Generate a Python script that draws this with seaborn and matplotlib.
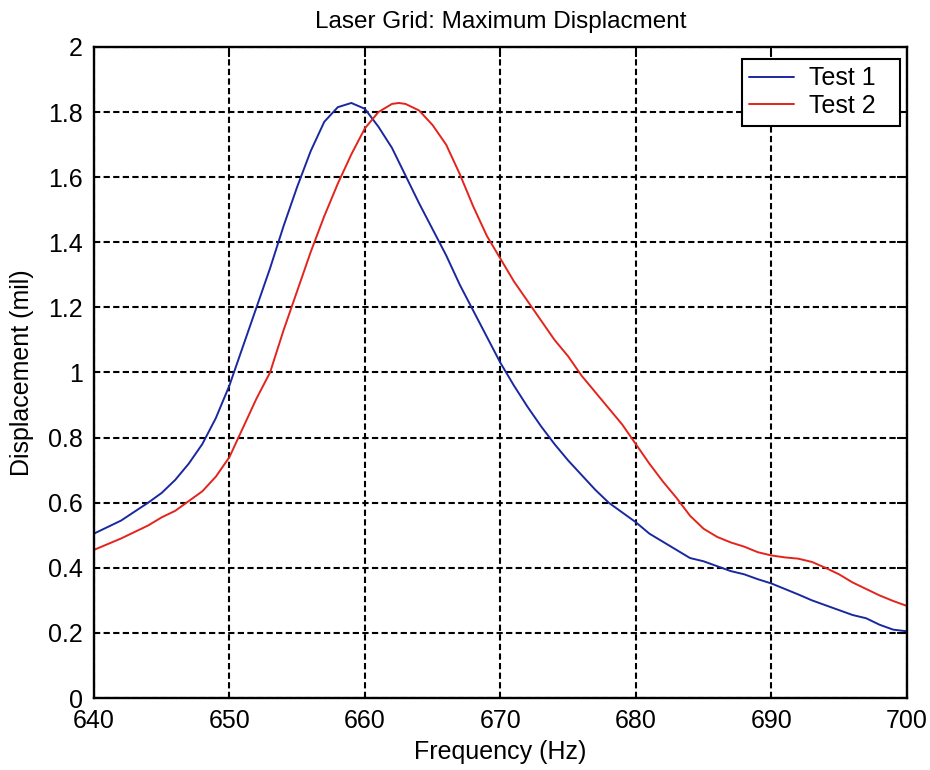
import matplotlib
matplotlib.use("Agg")
import matplotlib.pyplot as plt
from matplotlib.ticker import FormatStrFormatter, MultipleLocator
import seaborn as sns
import pandas as pd

# Frequency sweep (Hz) and measured maximum displacement (mil) for each test
freq_test1 = [640, 642, 644, 645, 646, 647, 648, 649, 650, 651, 652, 653, 654, 655,
              656, 657, 658, 659, 660, 661, 662, 663, 664, 665, 666, 667, 668, 669,
              670, 671, 672, 673, 674, 675, 676, 677, 678, 679, 680, 681, 682, 683,
              684, 685, 686, 687, 688, 689, 690, 691, 692, 693, 694, 695, 696, 697,
              698, 699, 700]
disp_test1 = [0.505, 0.545, 0.60, 0.63, 0.67, 0.72, 0.78, 0.86, 0.96, 1.08, 1.20, 1.32,
              1.45, 1.57, 1.68, 1.77, 1.815, 1.828, 1.81, 1.755, 1.69, 1.605, 1.52,
              1.44, 1.36, 1.27, 1.19, 1.11, 1.03, 0.96, 0.895, 0.835, 0.78, 0.73,
              0.685, 0.64, 0.60, 0.57, 0.54, 0.505, 0.48, 0.455, 0.43, 0.42, 0.405,
              0.39, 0.38, 0.365, 0.352, 0.335, 0.318, 0.30, 0.285, 0.27, 0.255, 0.245,
              0.225, 0.21, 0.205]

freq_test2 = [640, 642, 644, 645, 646, 647, 648, 649, 650, 651, 652, 653, 654, 655,
              656, 657, 658, 659, 660, 661, 662, 662.5, 663, 664, 665, 666, 667, 668,
              669, 670, 671, 672, 673, 674, 675, 676, 677, 678, 679, 680, 681, 682,
              683, 684, 685, 686, 687, 688, 689, 690, 691, 692, 693, 694, 695, 696,
              697, 698, 699, 700]
disp_test2 = [0.455, 0.49, 0.53, 0.555, 0.575, 0.605, 0.635, 0.68, 0.74, 0.83, 0.92,
              1.00, 1.13, 1.25, 1.37, 1.48, 1.58, 1.67, 1.75, 1.80, 1.825, 1.828,
              1.825, 1.805, 1.76, 1.70, 1.61, 1.51, 1.42, 1.35, 1.28, 1.22, 1.16,
              1.10, 1.05, 0.99, 0.94, 0.89, 0.84, 0.78, 0.72, 0.665, 0.615, 0.56,
              0.52, 0.495, 0.478, 0.465, 0.448, 0.438, 0.432, 0.428, 0.418, 0.40,
              0.38, 0.355, 0.335, 0.315, 0.298, 0.283]

series_names = ["Test 1", "Test 2"]
x_ticks = [640, 650, 660, 670, 680, 690, 700]

df = pd.concat([
    pd.DataFrame({"Frequency": freq_test1, "Displacement": disp_test1, "Series": series_names[0]}),
    pd.DataFrame({"Frequency": freq_test2, "Displacement": disp_test2, "Series": series_names[1]}),
], ignore_index=True)

sns.set_theme(style="white")
plt.rcParams["font.family"] = ["Liberation Sans", "DejaVu Sans"]

fig = plt.figure(figsize=(9.3, 7.7), dpi=100)
ax = fig.add_axes([0.101, 0.0935, 0.874, 0.8455])

palette = {"Test 1": "#1a28a0", "Test 2": "#e3241c"}
sns.lineplot(data=df, x="Frequency", y="Displacement", hue="Series", palette=palette,
             sort=False, estimator=None, linewidth=1.4, ax=ax, legend=False)

ax.set_xlim(640, 700)
ax.set_ylim(0, 2)
ax.set_xticks(x_ticks)
ax.yaxis.set_major_locator(MultipleLocator(0.2))
ax.yaxis.set_major_formatter(FormatStrFormatter("%g"))
ax.xaxis.set_major_formatter(FormatStrFormatter("%g"))

ax.grid(True, color="black", linestyle=(0, (3, 1.6)), linewidth=1.5)
for s in ax.spines.values():
    s.set_color("black")
    s.set_linewidth(1.7)
ax.tick_params(direction="in", length=7, width=1.4, top=True, right=True,
               labelsize=18, colors="black", pad=8)

ax.set_title("Laser Grid: Maximum Displacment", fontsize=17.5, pad=14, color="black")
ax.set_xlabel("Frequency (Hz)", fontsize=18, labelpad=5, color="black")
ax.set_ylabel("Displacement (mil)", fontsize=18, labelpad=10, color="black")

handles = [plt.Line2D([], [], color=palette[n], linewidth=1.4) for n in series_names]
leg = ax.legend(handles, series_names, loc="upper left", mode="expand", fontsize=18,
                frameon=True, fancybox=False, edgecolor="black", framealpha=1,
                borderpad=0.3, handlelength=1.8, handletextpad=0.6, labelspacing=0.15,
                borderaxespad=0, bbox_to_anchor=(0.797, 0.5, 0.1944, 0.4816))
leg.get_frame().set_linewidth(1.5)
for t in leg.get_texts():
    t.set_color("black")

fig.savefig("out.png", dpi=100)
